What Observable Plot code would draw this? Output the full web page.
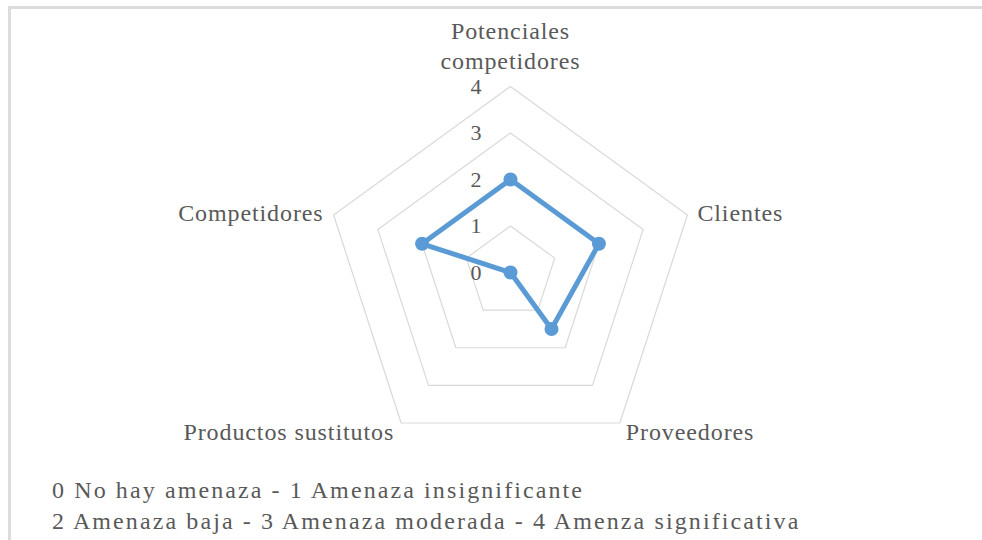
<!DOCTYPE html>
<html>
<head>
<meta charset="utf-8">
<script src="https://cdn.jsdelivr.net/npm/d3@7"></script>
<script src="https://cdn.jsdelivr.net/npm/@observablehq/plot@0.6"></script>
<style>
  html, body { margin: 0; padding: 0; background: #fff; font-family: "Liberation Serif", monospace; }
  #wrap { position: relative; width: 982px; height: 540px; overflow: hidden; }
  #frame { position: absolute; left: 8px; top: 6px; width: 974px; height: 534px; box-sizing: border-box;
           border-top: 3px solid #dcdcdc; border-left: 3px solid #dcdcdc; }
  #chart { position: absolute; left: 0; top: 0; }
  #caption { position: absolute; left: 52px; top: 475px; font-family: "Liberation Serif", monospace;
             font-size: 24px; line-height: 31px; color: #595959; white-space: nowrap; letter-spacing: 2.1px; }
  .lbl { font-family: "Liberation Serif", monospace; }
</style>
</head>
<body>
<div id="wrap">
  <div id="frame"></div>
  <div id="chart"></div>
  <div id="caption"></div>
</div>
<script>
// ---- data ----
const categories = ["Potenciales\ncompetidores", "Clientes", "Proveedores", "Productos sustitutos", "Competidores"];
const values = [2, 2, 1.5, 0, 2];
const ticks = [0, 1, 2, 3, 4];
const captionLines = [
  "0 No hay amenaza - 1 Amenaza insignificante",
  "2 Amenaza baja - 3 Amenaza moderada - 4 Amenza significativa"
];

// ---- layout / styles ----
const W = 982, H = 470, cx = 510, cy = 272, unit = 46.5;
const labelStyle = [
  {anchor: "middle", dx: 0, dy: -42},
  {anchor: "start", dx: 10, dy: -4},
  {anchor: "start", dx: 6, dy: 7},
  {anchor: "end", dx: -7, dy: 7},
  {anchor: "end", dx: -10, dy: -4}
];
const font = "Liberation Serif";
const textFill = "#595959";
const fontOk = document.fonts && document.fonts.check ? document.fonts.check("24px 'Liberation Serif'") : true;

const n = categories.length;
const angle = i => (i * 2 * Math.PI) / n;
const pt = (i, r) => ({x: r * Math.sin(angle(i)), y: r * Math.cos(angle(i))});

const gridRings = ticks.filter(t => t > 0).flatMap(t =>
  categories.map((c, i) => ({ring: t, ...pt(i, t)}))
);
const series = categories.map((c, i) => ({cat: c, value: values[i], ...pt(i, values[i])}));
const tickData = ticks.map(t => ({t, x: 0, y: t}));
const maxR = d3.max(ticks);
const labels = categories.map((c, i) => ({label: c, i, ...pt(i, maxR)}));

const plot = Plot.plot({
  width: W,
  height: H,
  margin: 0,
  className: "lbl",
  x: {domain: [-cx / unit, (W - cx) / unit], range: [0, W], axis: null},
  y: {domain: [-(H - cy) / unit, cy / unit], range: [H, 0], axis: null},
  marks: [
    Plot.line(gridRings, {x: "x", y: "y", z: "ring", curve: "linear-closed", stroke: "#d9d9d9", strokeWidth: 1.2}),
    Plot.line(series, {x: "x", y: "y", curve: "linear-closed", stroke: "#5b9bd5", strokeWidth: 5, strokeLinejoin: "round"}),
    Plot.dot(series, {x: "x", y: "y", r: 7, fill: "#5b9bd5", stroke: "none"}),
    Plot.text(tickData, {x: "x", y: "y", text: d => String(d.t), dx: -28, textAnchor: "end",
      fontFamily: font, fontSize: 22, fill: textFill}),
    ...labels.map(d => Plot.text([d], {x: "x", y: "y", text: "label",
      textAnchor: labelStyle[d.i].anchor, dx: labelStyle[d.i].dx, dy: labelStyle[d.i].dy,
      lineHeight: 1.25, fontFamily: font, fontSize: 24, fill: textFill}))
  ]
});
plot.style.background = "transparent";
plot.style.overflow = "visible";
plot.style.fontFamily = "'Liberation Serif', monospace";
plot.style.letterSpacing = "0.9px";
document.getElementById("chart").appendChild(plot);
const cap = document.getElementById("caption");
captionLines.forEach(l => {
  const d = document.createElement("div");
  d.textContent = l;
  d.style.fontFamily = "'Liberation Serif', monospace";
  cap.appendChild(d);
});
</script>
</body>
</html>
